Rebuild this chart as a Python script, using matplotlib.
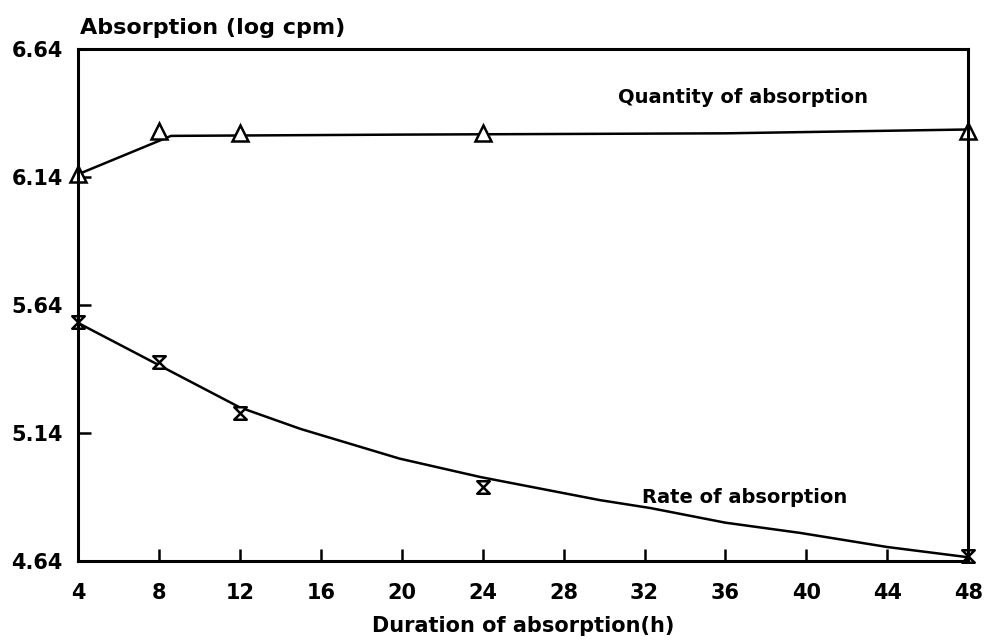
import matplotlib
matplotlib.use("Agg")
import matplotlib.pyplot as plt
from matplotlib.path import Path

plt.rcParams['font.family'] = ['DejaVu Sans']
plt.rcParams['font.weight'] = 'bold'
plt.rcParams['axes.labelweight'] = 'bold'

# measured points
hours = [4, 8, 12, 24, 48]
quantity = [6.15, 6.32, 6.31, 6.31, 6.32]
rate = [5.574, 5.417, 5.218, 4.929, 4.66]

# fitted curves drawn through the points
quantity_fit_x = [4, 8.6, 20, 36, 48]
quantity_fit_y = [6.15, 6.30, 6.305, 6.31, 6.325]
rate_fit_x = [4, 8, 12, 15, 19.9, 23.9, 29.8, 32.3, 36, 39.7, 44, 48]
rate_fit_y = [5.57, 5.405, 5.24, 5.156, 5.04, 4.968, 4.878, 4.847, 4.79, 4.75, 4.695, 4.655]

xticks = list(range(4, 49, 4))
yticks = [4.64, 5.14, 5.64, 6.14, 6.64]

hourglass = Path([(-1, 1), (1, 1), (-1, -1), (1, -1), (-1, 1)],
                 [Path.MOVETO, Path.LINETO, Path.LINETO, Path.LINETO, Path.CLOSEPOLY])

fig = plt.figure(figsize=(9.87, 6.42), dpi=100)
ax = fig.add_axes([0.079, 0.126, 0.902, 0.798])

ax.plot(quantity_fit_x, quantity_fit_y, color='black', lw=1.8)
ax.plot(rate_fit_x, rate_fit_y, color='black', lw=1.8)
ax.plot(hours, quantity, ls='none', marker='^', ms=11, mfc='white', mec='black', mew=1.8, clip_on=False)
ax.plot(hours, rate, ls='none', marker=hourglass, ms=9, mfc='white', mec='black', mew=1.8, clip_on=False)

ax.set_xlim(4, 48)
ax.set_ylim(4.64, 6.64)
ax.set_xticks(xticks)
ax.set_yticks(yticks)
ax.set_yticklabels(['%.2f' % v for v in yticks])
ax.tick_params(direction='in', length=9, width=1.8, labelsize=15)
ax.tick_params(axis='x', pad=16)
ax.tick_params(axis='y', pad=11)
for t in [ax.xaxis.get_major_ticks()[0], ax.xaxis.get_major_ticks()[-1],
          ax.yaxis.get_major_ticks()[0], ax.yaxis.get_major_ticks()[-1]]:
    t.tick1line.set_visible(False)
for s in ax.spines.values():
    s.set_linewidth(2.2)

ax.text(30.7, 6.45, 'Quantity of absorption', fontsize=14, va='center', ha='left')
ax.text(31.9, 4.89, 'Rate of absorption', fontsize=14, va='center', ha='left')
ax.set_xlabel('Duration of absorption(h)', fontsize=15, fontweight='bold', labelpad=9)
fig.text(0.081, 0.956, 'Absorption (log cpm)', fontsize=16, va='center', ha='left')

fig.savefig('out.png', dpi=100)
